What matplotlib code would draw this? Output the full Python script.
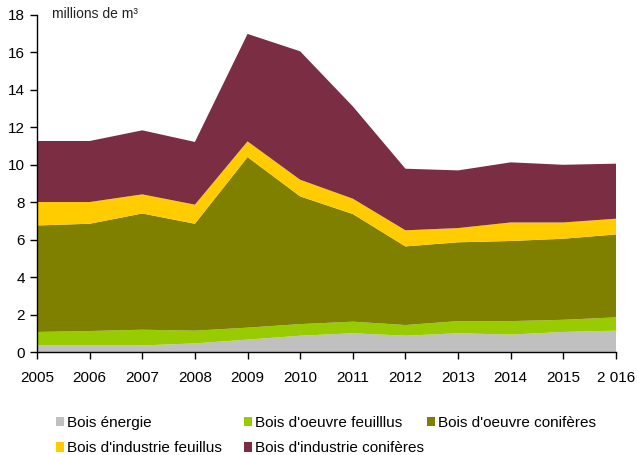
import matplotlib
matplotlib.use("Agg")
import matplotlib.pyplot as plt
from matplotlib.patches import Patch

plt.rcParams['font.family'] = ['Liberation Sans', 'DejaVu Sans']

years = [2005, 2006, 2007, 2008, 2009, 2010, 2011, 2012, 2013, 2014, 2015, 2016]
year_labels = ['2005', '2006', '2007', '2008', '2009', '2010', '2011', '2012', '2013', '2014', '2015', '2 016']

bois_energie = [0.35, 0.35, 0.35, 0.46, 0.66, 0.87, 1.00, 0.87, 1.00, 0.93, 1.07, 1.14]
oeuvre_feuillus = [0.72, 0.77, 0.84, 0.68, 0.64, 0.62, 0.62, 0.57, 0.65, 0.72, 0.65, 0.71]
oeuvre_coniferes = [5.69, 5.73, 6.21, 5.71, 9.11, 6.82, 5.75, 4.20, 4.21, 4.28, 4.33, 4.43]
industrie_feuillus = [1.25, 1.16, 1.02, 1.02, 0.84, 0.89, 0.82, 0.86, 0.76, 0.99, 0.87, 0.84]
industrie_coniferes = [3.26, 3.26, 3.42, 3.35, 5.74, 6.86, 4.93, 3.29, 3.08, 3.21, 3.08, 2.94]

labels = ["Bois énergie", "Bois d'oeuvre feuilllus", "Bois d'oeuvre conifères",
          "Bois d'industrie feuillus", "Bois d'industrie conifères"]
colors = ['#C0C0C0', '#99CC00', '#808000', '#FFCC00', '#7A2D43']

fig = plt.figure(figsize=(6.37, 4.55), dpi=100)
ax = fig.add_axes([37/637, 1 - 352/455, (616 - 37)/637, (352 - 15)/455])

ax.stackplot(years, bois_energie, oeuvre_feuillus, oeuvre_coniferes,
             industrie_feuillus, industrie_coniferes, colors=colors, linewidth=0)

ax.set_xlim(2005, 2016)
ax.set_ylim(0, 18)
ax.set_yticks(range(0, 19, 2))
ax.set_xticks(years)
ax.set_xticklabels(year_labels)
ax.tick_params(axis='both', labelsize=11, colors='black', length=5, width=1, direction='out')
ax.tick_params(axis='x', pad=9)
for s in ['top', 'right']:
    ax.spines[s].set_visible(False)
for s in ['left', 'bottom']:
    ax.spines[s].set_linewidth(1)
    ax.spines[s].set_color('black')

fig.text(52/637, 1 - 14/455, "millions de m³", fontsize=10, va='center', ha='left', color='#222222')

handles = [Patch(facecolor=c, edgecolor='none') for c in colors]
columns = [([0, 3], 56), ([1, 4], 244), ([2], 427)]
for idxs, xpix in columns:
    fig.legend([handles[i] for i in idxs], [labels[i] for i in idxs],
               loc='upper left', bbox_to_anchor=(xpix/637, 1 - 416/455), ncol=1,
               frameon=False, fontsize=11, handlelength=0.55, handleheight=0.55,
               handletextpad=0.15, labelspacing=0.75, borderpad=0, borderaxespad=0)

fig.savefig('out.png', dpi=100)
